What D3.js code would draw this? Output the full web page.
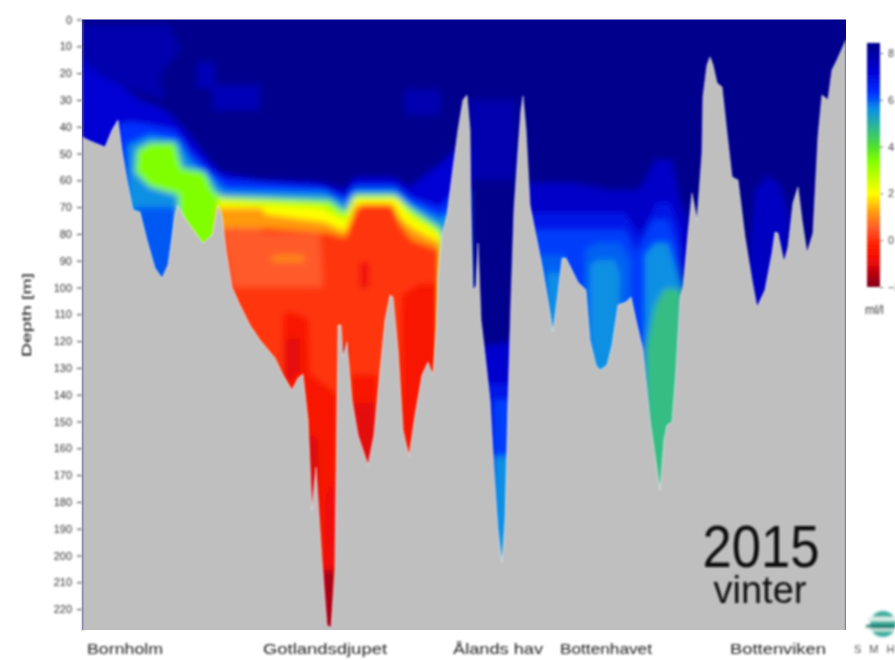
<!DOCTYPE html>
<html>
<head>
<meta charset="utf-8">
<script src="https://cdn.jsdelivr.net/npm/d3@7"></script>
<style>
  html, body { margin: 0; padding: 0; background: #fff; overflow: hidden; }
  text { font-family: "Liberation Sans", Arial, sans-serif; }
</style>
</head>
<body>
<div id="plot"></div>
<script>
// Depth axis and colour bar ticks
const depthTicks = d3.range(0, 221, 10);
const oxygenTicks = [8, 6, 4, 2, 0, -2];

// Basin names along the section, [label, distance, text width]
const basinNames = ["Bornholm", "Gotlandsdjupet", "Ålands hav", "Bottenhavet", "Bottenviken"];
const basinCentres = [43, 243, 416, 524, 696];
const basinWidths = [76, 124, 90, 92, 96];

// Sea bed along the section
const seabedDistance = [0,8,18,23,30,36,40,45,51,58,65,73,80,86,93,96,101,108,121,130,136,140,144,150,158,168,178,193,201,210,216,221,226,230,234,240,245,249,253,255,256,259,261,265,270,276,286,292,298,303,308,311,316,321,327,333,340,346,351,354,356,360,365,370,376,381,385,388,389,391,394,396,399,402,408,412,416,420,423,426,429,432,436,439,441,444,448,454,460,466,471,475,480,484,490,496,504,508,514,518,525,530,536,544,549,554,561,568,573,578,582,585,590,594,598,601,606,610,615,616,620,621,625,628,631,635,640,645,650,656,663,670,675,683,690,693,696,702,706,711,716,720,725,731,736,740,746,750,755,764];
const seabedDepth = [43.8,45.3,46.8,47.6,41.2,37.5,48.7,59.9,71.1,71.8,82.3,92.7,96.5,91.6,72.9,69.2,72.9,76.7,83.4,80.4,69.2,72.9,86,99.8,106.5,114,119.6,126.3,132.6,138.2,133.8,132.3,149.4,183,167,201.7,226,227,205.4,142,114,114,125.9,120.3,142,155,166.2,155,130.8,112.1,102.8,103.5,123.3,153.2,162.9,147.6,132.6,127.8,132.6,115.9,95.3,80.4,72.9,58,41.2,30,28.2,41.2,71.1,100.9,99.3,83.4,112.1,121.5,142,168,190.4,202.4,186.8,142,104.7,71.1,48.7,33.8,28.5,41.2,69.2,80.4,91.6,104.7,116.3,104.7,89,89,93.5,98,100.9,119.6,129,130.8,129,121.5,106.5,105.4,103.5,112.1,123.3,149.4,162.5,175.5,156.9,151.3,150.2,130.8,103.5,99.8,79.7,64.8,74.8,70,49.8,28.9,17,14,17,23.7,25.2,42.4,58.8,59.9,81.2,97.2,107.3,100.9,87.1,79.3,79.7,90.5,84.9,68.5,62.5,74.8,87.1,79.7,43.8,28.2,30,18.8,15.1,7.6];

// Oxygen contours, [distance, depth] pairs
const hazeWest = [[0,2],[88,2],[98,11.4],[78,20.7],[83,30],[38,24.4],[18,21],[0,15]];
const hazeA = [[115,15.9],[133,15.9],[133,25.6],[115,25.6]];
const hazeB = [[131,24.4],[178,24.4],[178,33.8],[131,33.8]];
const hazeC = [[323,26.3],[358,26.3],[358,35.6],[323,35.6]];
const balticBlue = [[0,15],[18,21],[38,24.4],[58,30],[83,33.8],[103,41.2],[123,50.6],[138,56.9],[178,59.9],[238,60.6],[263,63.6],[273,59],[313,59],[328,62.9],[343,58],[358,54.3],[373,48.7],[388,48.7],[388,228],[0,228]];
const balticBright = [[36,39.4],[48,38.2],[68,39.4],[93,41.2],[108,48.7],[128,56.2],[143,59.9],[238,62.5],[263,66.2],[273,61.8],[313,61.8],[328,66.2],[358,70.3],[370,65.5],[388,63.7],[388,228],[36,228]];
const balticCyan = [[46,46.8],[68,43.1],[96,45],[108,52.4],[130,59.1],[143,63.6],[243,64.4],[263,68.5],[273,63.6],[313,63.6],[328,68.5],[358,74.1],[373,71.1],[373,228],[46,228]];
const bornholmDeep = [[53,70],[96,70],[96,101],[53,101]];
const balticGreen = [[55,48.7],[68,46],[93,46],[100,55.4],[123,56.9],[131,63.6],[140,66.2],[248,67.4],[263,71.8],[273,65.5],[313,65.5],[328,70.3],[358,77.8],[363,82.3],[363,228],[96,228],[96,65.5],[68,62.5],[53,56.9]];
const balticLime = [[136,66.2],[243,68.8],[263,73.3],[271,66.2],[315,66.2],[328,71.8],[358,79.3],[363,228],[136,228]];
const balticYellow = [[136,68.5],[238,70.7],[263,75.6],[274,67],[314,67],[328,73.7],[358,80.8],[360,228],[136,228]];
const balticOrange = [[135,70.3],[180,70.3],[183,72.6],[243,75.6],[263,79.3],[270,72.9],[273,69.2],[311,69.2],[318,74.1],[330,77.8],[358,83.4],[358,228],[135,228]];
const balticRed = [[135,77.8],[183,77.8],[248,79.7],[263,81.5],[273,71.8],[280,68.8],[310,68.8],[318,76.7],[330,82.3],[358,86],[358,228],[135,228]];
const gotlandSalmon = [[140,77.8],[180,77.8],[180,79.7],[238,79.7],[241,99.8],[150,99.8]];
const gotlandPale = [[190,87.9],[222,87.9],[222,90.5],[190,90.5]];
const redWest = [[201,110.2],[208,109.1],[226,111.4],[230,149.4],[201,142]];
const redEast = [[320,102.8],[338,98.7],[356,98.7],[358,142],[318,168]];
const redDeep = [[223,130.8],[256,140.1],[256,228],[223,228]];
const redMiddle = [[268,132.6],[296,132.6],[296,168],[268,168]];
const darkMiddle = [[268,143.1],[296,143.1],[296,168],[268,168]];
const darkStrand = [[223,153.2],[236,156.9],[238,228],[223,228]];
const darkDeep = [[243,179.3],[254,168],[254,228],[243,228]];
const darkTip = [[240,205.4],[254,205.4],[254,228],[240,228]];
const darkWest = [[203,119.6],[218,118.9],[218,130.8],[203,136.4]];
const darkOval = [[278,90.5],[287,90.5],[287,100.2],[278,100.2]];
const darkSpot = [[258,121.5],[265,121.5],[265,127],[258,127]];
const alandUpper = [[388,30],[434,30],[434,60],[388,60]];
const alandBlue = [[388,123.3],[434,119.6],[434,228],[388,228]];
const alandBright = [[388,136],[434,136],[434,228],[388,228]];
const alandDeep = [[412,142],[434,142],[434,228],[412,228]];
const alandCyan = [[412,163],[434,163],[434,228],[412,228]];
const bothnianBlue = [[443,61],[493,61],[528,63.6],[558,63.6],[573,52.4],[590,52.4],[598,67.4],[606,74.8],[606,228],[443,228]];
const bothnianBright = [[448,72.2],[543,72.2],[558,81.2],[575,68.5],[588,68.5],[598,78.5],[600,228],[448,228]];
const bothnianMid = [[453,78.5],[544,78.5],[554,87.1],[571,74.8],[586,74.8],[596,86],[600,228],[453,228]];
const bothnianArch = [[503,86],[514,83.4],[538,83.4],[548,89.7],[548,120],[503,120]];
const bothnianArchWest = [[458,87.9],[483,87.9],[483,120],[458,120]];
const bothnianCyanA = [[466,94.6],[478,94.6],[478,120],[466,120]];
const bothnianCyanB = [[508,91.6],[516,89.7],[533,89.7],[538,95.3],[536,135],[508,135]];
const bothnianCyanC = [[563,87.9],[573,83.4],[586,83.4],[600,100],[600,120],[563,125]];
const bothnianTeal = [[563,123.3],[573,106.5],[583,100.2],[600,100.9],[600,228],[563,228]];
const bayBlue = [[673,63.7],[686,58.4],[698,61.8],[708,74.8],[703,89.7],[693,112],[663,112]];

// Painting order, [oxygen value, contour]
const contours = [
  [7.85, hazeWest], [7.7, hazeA], [7.7, hazeB], [7.8, hazeC],
  [7.2, balticBlue], [6.3, balticBright], [5.6, balticCyan], [6.0, bornholmDeep],
  [3.4, balticGreen], [2.6, balticLime], [2.0, balticYellow], [1.2, balticOrange],
  [0.05, balticRed], [0.5, gotlandSalmon], [1.0, gotlandPale],
  [-0.5, redWest], [-0.5, redEast], [-0.5, redDeep], [-0.5, redMiddle],
  [-1.0, darkMiddle], [-1.1, darkStrand], [-0.9, darkDeep], [-1.6, darkTip],
  [-1.0, darkWest], [-0.8, darkOval], [-1.6, darkSpot],
  [7.85, alandUpper], [7.3, alandBlue], [6.8, alandBright], [6.2, alandDeep], [5.6, alandCyan],
  [7.4, bothnianBlue], [6.8, bothnianBright], [6.2, bothnianMid],
  [5.95, bothnianArch], [5.95, bothnianArchWest],
  [5.6, bothnianCyanA], [5.6, bothnianCyanB], [5.6, bothnianCyanC], [4.7, bothnianTeal],
  [7.5, bayBlue]
];

// Colour bar scale of the picture
const oxygenStops = [-2, -0.9, -0.2, 0.5, 1.2, 2, 3.4, 4.0, 4.8, 5.6, 6.3, 7.2, 8.43];
const oxygenColors = ["#800018", "#ee0808", "#ff2000", "#ff5a2a", "#ff9a10", "#ffff00", "#80ff00", "#50e030", "#30b890", "#0c90e4", "#0030ff", "#0000d4", "#00008c"];

const width = 895, height = 660;
const plot = { left: 82, right: 846, top: 19.5, bottom: 630 };
const maxDepth = 228;

const x = d3.scaleLinear().domain([0, 764]).range([plot.left, plot.right]);
const y = d3.scaleLinear().domain([0, maxDepth]).range([plot.top, plot.top + maxDepth * 2.68]);
const color = d3.scaleLinear().domain(oxygenStops).range(oxygenColors).clamp(true);

const svg = d3.select("#plot").append("svg")
    .attr("width", width)
    .attr("height", height);

const defs = svg.append("defs");

function blur(id, amount) {
  defs.append("filter")
      .attr("id", id)
      .attr("filterUnits", "userSpaceOnUse")
      .attr("x", 0).attr("y", 0).attr("width", width).attr("height", height)
    .append("feGaussianBlur")
      .attr("stdDeviation", amount);
}
blur("soft", 3);
blur("edge", 0.8);
blur("type", 0.85);
blur("mark", 1.6);

defs.append("clipPath").attr("id", "plot-clip")
  .append("rect")
    .attr("x", plot.left).attr("y", plot.top)
    .attr("width", plot.right - plot.left).attr("height", plot.bottom - plot.top);

// Oxygen field
const field = svg.append("g").attr("clip-path", "url(#plot-clip)")
  .append("g").attr("filter", "url(#soft)");

field.append("rect")
    .attr("x", 0).attr("y", 0)
    .attr("width", width).attr("height", height)
    .attr("fill", color(8.43));

const contourLine = d3.line()
    .x(d => x(d[0]))
    .y(d => y(d[1]))
    .curve(d3.curveLinearClosed);

field.selectAll("path")
  .data(contours)
  .join("path")
    .attr("d", d => contourLine(d[1]))
    .attr("fill", d => color(d[0]));

// Sea bed on top of the field
const seabed = d3.range(seabedDistance.length).map(i => [seabedDistance[i], seabedDepth[i]]);
const bedGroup = svg.append("g").attr("clip-path", "url(#plot-clip)")
  .append("g").attr("filter", "url(#edge)");

bedGroup.append("path")
    .datum(seabed)
    .attr("fill", "#bfbfbf")
    .attr("d", d3.area().x(d => x(d[0])).y0(y(maxDepth) + 5).y1(d => y(d[1])));

bedGroup.append("path")
    .datum(seabed)
    .attr("fill", "none")
    .attr("stroke", "#fff")
    .attr("stroke-opacity", 0.5)
    .attr("stroke-width", 1)
    .attr("d", d3.line().x(d => x(d[0])).y(d => y(d[1])));

// Axes and labels
const type = svg.append("g").attr("filter", "url(#type)");

const depthAxis = type.append("g")
    .attr("transform", `translate(${plot.left},0)`)
    .call(d3.axisLeft(y).tickValues(depthTicks).tickSize(5).tickSizeOuter(0).tickPadding(5));
depthAxis.select(".domain").attr("stroke", "#999");
depthAxis.selectAll("line").attr("stroke", "#333");
depthAxis.selectAll("text")
    .attr("fill", "#333")
    .style("font-family", '"Liberation Sans", Arial, sans-serif')
    .style("font-size", "11px");

type.append("text")
    .attr("transform", "translate(31,315) rotate(-90)")
    .attr("text-anchor", "middle")
    .attr("font-size", 13)
    .attr("fill", "#111")
    .attr("textLength", 84)
    .attr("lengthAdjust", "spacingAndGlyphs")
    .text("Depth [m]");

type.selectAll(".basin")
  .data(basinNames)
  .join("text")
    .attr("class", "basin")
    .attr("x", (d, i) => x(basinCentres[i]))
    .attr("y", 654)
    .attr("text-anchor", "middle")
    .attr("font-size", 15)
    .attr("fill", "#222")
    .attr("textLength", (d, i) => basinWidths[i])
    .attr("lengthAdjust", "spacingAndGlyphs")
    .text(d => d);

// Year label
type.append("text")
    .attr("x", 761).attr("y", 567)
    .attr("text-anchor", "middle")
    .attr("font-size", 60)
    .attr("fill", "#111")
    .attr("textLength", 117)
    .attr("lengthAdjust", "spacingAndGlyphs")
    .text("2015");
type.append("text")
    .attr("x", 760).attr("y", 603)
    .attr("text-anchor", "middle")
    .attr("font-size", 38)
    .attr("fill", "#111")
    .text("vinter");

// Colour bar
const barScale = d3.scaleLinear().domain([-2, 8]).range([287, 53]);
const gradient = defs.append("linearGradient")
    .attr("id", "oxygen-bar")
    .attr("x1", 0).attr("y1", 1).attr("x2", 0).attr("y2", 0);
gradient.selectAll("stop")
  .data(oxygenStops)
  .join("stop")
    .attr("offset", d => (d + 2) / 10.43)
    .attr("stop-color", d => color(d));

const bar = svg.append("g").attr("filter", "url(#type)");
bar.append("rect")
    .attr("x", 867).attr("y", barScale(8.43))
    .attr("width", 13).attr("height", barScale(-2) - barScale(8.43))
    .attr("fill", "url(#oxygen-bar)");

const barAxis = bar.append("g")
    .attr("transform", "translate(880,0)")
    .call(d3.axisRight(barScale).tickValues(oxygenTicks).tickSize(3).tickPadding(5));
barAxis.select(".domain").remove();
barAxis.selectAll("line").attr("stroke", "#555");
barAxis.selectAll("text")
    .attr("fill", "#444")
    .style("font-family", '"Liberation Sans", Arial, sans-serif')
    .style("font-size", "11px");

bar.append("text")
    .attr("x", 865).attr("y", 314)
    .attr("font-size", 12)
    .attr("fill", "#333")
    .text("ml/l");

// Logo in the corner
const logo = svg.append("g").attr("filter", "url(#mark)");
logo.append("circle")
    .attr("cx", 883).attr("cy", 624).attr("r", 13)
    .attr("fill", "#3cae9f");
logo.append("rect")
    .attr("x", 868).attr("y", 617).attr("width", 27).attr("height", 4)
    .attr("fill", "#dff3ef");
logo.append("rect")
    .attr("x", 866).attr("y", 625).attr("width", 29).attr("height", 2.5)
    .attr("fill", "#126a60");
logo.append("rect")
    .attr("x", 868).attr("y", 629).attr("width", 27).attr("height", 2)
    .attr("fill", "#dff3ef");
type.append("text")
    .attr("x", 854).attr("y", 653)
    .attr("font-size", 11)
    .attr("letter-spacing", 8)
    .attr("fill", "#555")
    .text("SMHI");
</script>
</body>
</html>
